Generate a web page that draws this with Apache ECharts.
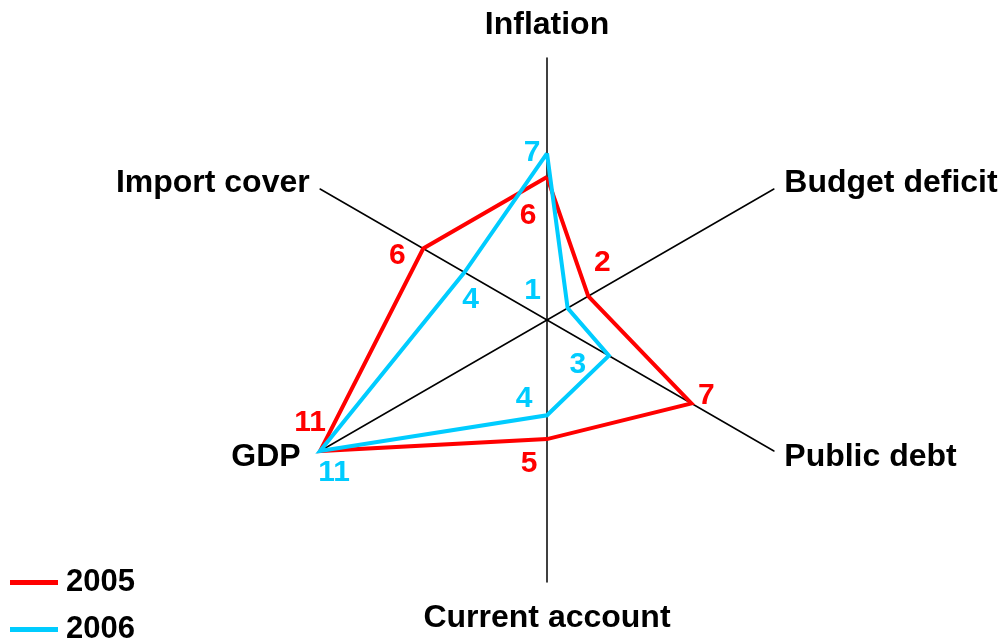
<!DOCTYPE html>
<html>
<head>
<meta charset="utf-8">
<script src="https://cdn.jsdelivr.net/npm/echarts@6/dist/echarts.min.js"></script>
<style>
  html, body { margin: 0; padding: 0; background: #fff; }
  #chart { width: 1003px; height: 640px; }
</style>
</head>
<body>
<div id="chart"></div>
<script>
const indicators = ["Inflation", "Import cover", "GDP", "Current account", "Public debt", "Budget deficit"];
const years = ["2005", "2006"];
const values2005 = [6, 6, 11, 5, 7, 2];
const values2006 = [7, 4, 11, 4, 3, 1];
const axisMax = 11;

const colors = ["#ff0000", "#00ccff"];
const font = "Liberation Sans, Arial, sans-serif";

const nameText = { color: "#000", fontFamily: font, fontWeight: "bold", fontSize: 32 };
// a few names sit a little further from their axis end
const nameStyleKey = { Inflation: "up", "Current account": "down", GDP: "left" };

const legendText = { fontFamily: font, fontWeight: "bold", fontSize: 31, color: "#000", padding: [0, 0, 0, 3] };

let option = {
    animation: false,
    legend: years.map((year, s) => ({
        data: [year],
        left: 10,
        top: 567 + s * 47,
        padding: 0,
        icon: "rect",
        itemWidth: 48,
        itemHeight: 5,
        textStyle: legendText,
    })),
    radar: {
        center: [547, 320],
        radius: 262,
        startAngle: 90,
        shape: "polygon",
        splitNumber: 1,
        nameGap: 12,
        indicator: indicators.map((name) => ({ name: name, min: 0, max: axisMax })),
        axisName: {
            ...nameText,
            formatter: (name) => "{" + (nameStyleKey[name] || "plain") + "|" + name + "}",
            rich: {
                plain: { ...nameText },
                up: { ...nameText, padding: [0, 0, 5, 0] },
                down: { ...nameText, padding: [8, 0, 0, 0] },
                left: { ...nameText, padding: [0, 9, 0, 0] },
            },
        },
        axisLine: { lineStyle: { color: "#000", width: 1.5 } },
        axisTick: { show: false },
        axisLabel: { show: false },
        splitLine: { show: false },
        splitArea: { show: false },
    },
    series: [
        {
            type: "radar",
            symbol: "none",
            data: [values2005, values2006].map((vals, s) => ({
                name: years[s],
                value: vals,
                lineStyle: { color: colors[s], width: 4, join: "miter" },
                itemStyle: { color: colors[s] },
            })),
        },
    ],
};

const chart = echarts.init(document.getElementById("chart"));
chart.setOption(option);

// value labels sit next to each vertex, nudged like the original
const nudges = [
    [[-19, 39], [-26, 7], [-10, -28], [-18, 25], [15, -8], [14, -33]],
    [[-15, -1], [6, 27], [14, 22], [-23, -17], [-31, 9], [-35, -17]],
];
const radarCoord = chart.getModel().getComponent("radar").coordinateSystem;
let labels = [];
[values2005, values2006].forEach((vals, s) => {
    vals.forEach((v, i) => {
        const p = radarCoord.dataToPoint(v, i);
        labels.push({
            type: "text",
            x: p[0] + nudges[s][i][0],
            y: p[1] + nudges[s][i][1],
            z: 10,
            style: {
                text: String(v),
                fill: colors[s],
                font: "bold 30px " + font,
                align: "center",
                verticalAlign: "middle",
                textAlign: "center",
                textVerticalAlign: "middle",
            },
        });
    });
});
chart.setOption({ graphic: labels });
</script>
</body>
</html>
